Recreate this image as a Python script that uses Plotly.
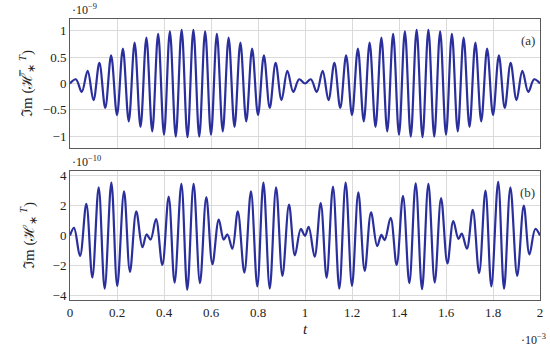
import plotly.graph_objects as go

# ---- data (time in units of 1e-3, values in units of 1e-9 / 1e-10) ----
top_t = [0.000, 0.025, 0.050, 0.075, 0.100, 0.125, 0.150, 0.175, 0.200, 0.225,
         0.250, 0.275, 0.300, 0.325, 0.350, 0.375, 0.400, 0.425, 0.450, 0.475,
         0.500, 0.525, 0.550, 0.575, 0.600, 0.625, 0.650, 0.675, 0.700, 0.725,
         0.750, 0.775, 0.800, 0.825, 0.850, 0.875, 0.900, 0.925, 0.950, 0.975,
         1.000, 1.025, 1.050, 1.075, 1.100, 1.125, 1.150, 1.175, 1.200, 1.225,
         1.250, 1.275, 1.300, 1.325, 1.350, 1.375, 1.400, 1.425, 1.450, 1.475,
         1.500, 1.525, 1.550, 1.575, 1.600, 1.625, 1.650, 1.675, 1.700, 1.725,
         1.750, 1.775, 1.800, 1.825, 1.850, 1.875, 1.900, 1.925, 1.950, 1.975,
         2.000]
top_v = [0.000, 0.080, -0.160, 0.238, -0.315, 0.390, -0.463, 0.533, -0.600, 0.662,
         -0.721, 0.776, -0.825, 0.870, -0.909, 0.942, -0.970, 0.992, -1.007, 1.017,
         -1.020, 1.017, -1.007, 0.992, -0.970, 0.942, -0.909, 0.870, -0.825, 0.776,
         -0.721, 0.662, -0.600, 0.533, -0.463, 0.390, -0.315, 0.238, -0.160, 0.080,
         0.000, 0.080, -0.160, 0.238, -0.315, 0.390, -0.463, 0.533, -0.600, 0.662,
         -0.721, 0.776, -0.825, 0.870, -0.909, 0.942, -0.970, 0.992, -1.007, 1.017,
         -1.020, 1.017, -1.007, 0.992, -0.970, 0.942, -0.909, 0.870, -0.825, 0.776,
         -0.721, 0.662, -0.600, 0.533, -0.463, 0.390, -0.315, 0.238, -0.160, 0.080,
         0.000]

bot_t = [0.000, 0.017, 0.0426, 0.0695, 0.095, 0.122, 0.1475, 0.176, 0.201, 0.230,
         0.255, 0.282, 0.308, 0.326, 0.343, 0.366, 0.393, 0.420, 0.445, 0.474,
         0.499, 0.526, 0.553, 0.580, 0.606, 0.633, 0.654, 0.670, 0.691, 0.714,
         0.742, 0.770, 0.797, 0.823, 0.850, 0.877, 0.904, 0.932, 0.957, 0.982,
         1.000, 1.0156, 1.041, 1.067, 1.092, 1.119, 1.146, 1.173, 1.200, 1.227,
         1.254, 1.281, 1.307, 1.325, 1.339, 1.3645, 1.390, 1.417, 1.444, 1.471,
         1.498, 1.525, 1.552, 1.579, 1.606, 1.631, 1.653, 1.667, 1.689, 1.714,
         1.741, 1.768, 1.793, 1.822, 1.847, 1.874, 1.903, 1.931, 1.955, 1.980,
         2.000]
bot_v = [0.00, 0.51, -1.38, 2.13, -2.82, 3.24, -3.56, 3.56, -3.38, 2.96,
         -2.44, 1.62, -0.78, 0.07, -0.27, 1.11, -1.98, 2.62, -3.16, 3.47,
         -3.64, 3.47, -3.20, 2.58, -1.93, 1.07, -0.27, 0.07, -0.89, 1.62,
         -2.49, 2.96, -3.42, 3.56, -3.56, 3.24, -2.71, 2.07, -1.33, 0.44,
         -0.02, 0.58, -1.42, 2.18, -2.84, 3.29, -3.56, 3.56, -3.38, 2.89,
         -2.38, 1.56, -0.71, 0.04, -0.31, 1.18, -1.98, 2.67, -3.20, 3.51,
         -3.60, 3.47, -3.16, 2.51, -1.87, 0.96, -0.22, 0.13, -0.89, 1.73,
         -2.53, 3.02, -3.42, 3.60, -3.56, 3.24, -2.71, 2.00, -1.27, 0.44,
         0.00]

x_ticks = [0, 0.2, 0.4, 0.6, 0.8, 1, 1.2, 1.4, 1.6, 1.8, 2]
x_ticktext = ["0", "0.2", "0.4", "0.6", "0.8", "1", "1.2", "1.4", "1.6", "1.8", "2"]
top_yticks = [-1, -0.5, 0, 0.5, 1]
bot_yticks = [-4, -2, 0, 2, 4]

LINE = "#2a2f9c"
FONT = "Liberation Serif"
GRID = "#dadada"
FRAME = "#5a5a5a"

fig = go.Figure()
fig.add_trace(go.Scatter(x=top_t, y=top_v, mode="lines",
                         line=dict(color=LINE, width=2.2, shape="spline", smoothing=1.0),
                         xaxis="x", yaxis="y", showlegend=False, cliponaxis=True))
fig.add_trace(go.Scatter(x=bot_t, y=bot_v, mode="lines",
                         line=dict(color=LINE, width=2.2, shape="spline", smoothing=1.0),
                         xaxis="x2", yaxis="y2", showlegend=False, cliponaxis=True))

ax_common = dict(showline=True, linecolor=FRAME, linewidth=1, mirror=True,
                 showgrid=True, gridcolor=GRID, gridwidth=1, zeroline=False,
                 ticks="", automargin=False,
                 tickfont=dict(family=FONT, size=13, color="#222"))

fig.update_layout(
    width=550, height=348,
    margin=dict(l=70, r=10, t=19, b=48, autoexpand=False),
    paper_bgcolor="white", plot_bgcolor="white",
    font=dict(family=FONT, size=13, color="#222"),
    xaxis=dict(domain=[0, 1], anchor="y", range=[0, 2], tickvals=x_ticks,
               showticklabels=False, **ax_common),
    yaxis=dict(domain=[0.541, 1], anchor="x", range=[-1.225, 1.225], tickvals=top_yticks,
               title=dict(text="ℑm (ℋ̅<sub>∗</sub><sup> <i>T</i></sup>)", standoff=6,
                          font=dict(family=FONT, size=15)),
               **ax_common),
    xaxis2=dict(domain=[0, 1], anchor="y2", range=[0, 2], tickvals=x_ticks,
                ticktext=x_ticktext, matches="x",
                title=dict(text="<i>t</i>", standoff=4, font=dict(family=FONT, size=15)),
                **ax_common),
    yaxis2=dict(domain=[0, 0.459], anchor="x2", range=[-4.33, 4.33], tickvals=bot_yticks,
                title=dict(text="ℑm (ℋ<sub>∗</sub><sup> <i>T</i></sup>)", standoff=14,
                           font=dict(family=FONT, size=15)),
                **ax_common),
)

ann = dict(showarrow=False, xref="paper", yref="paper", font=dict(family=FONT, size=12, color="#222"))
fig.add_annotation(text="·10<sup>−9</sup>", x=0.0, y=1.035, xanchor="left", yanchor="middle", **ann)
fig.add_annotation(text="·10<sup>−10</sup>", x=0.0, y=0.493, xanchor="left", yanchor="middle", **ann)
fig.add_annotation(text="·10<sup>−3</sup>", x=1.017, y=-0.142, xanchor="right", yanchor="middle", **ann)
fig.add_annotation(text="(a)", x=0.994, y=0.922, xanchor="right", yanchor="middle",
                   **{**ann, "font": dict(family=FONT, size=13, color="#333")})
fig.add_annotation(text="(b)", x=0.994, y=0.381, xanchor="right", yanchor="middle",
                   **{**ann, "font": dict(family=FONT, size=13, color="#333")})

fig.write_html("out.html", config={"displayModeBar": False},
               post_script="document.body.style.margin='0px';")
